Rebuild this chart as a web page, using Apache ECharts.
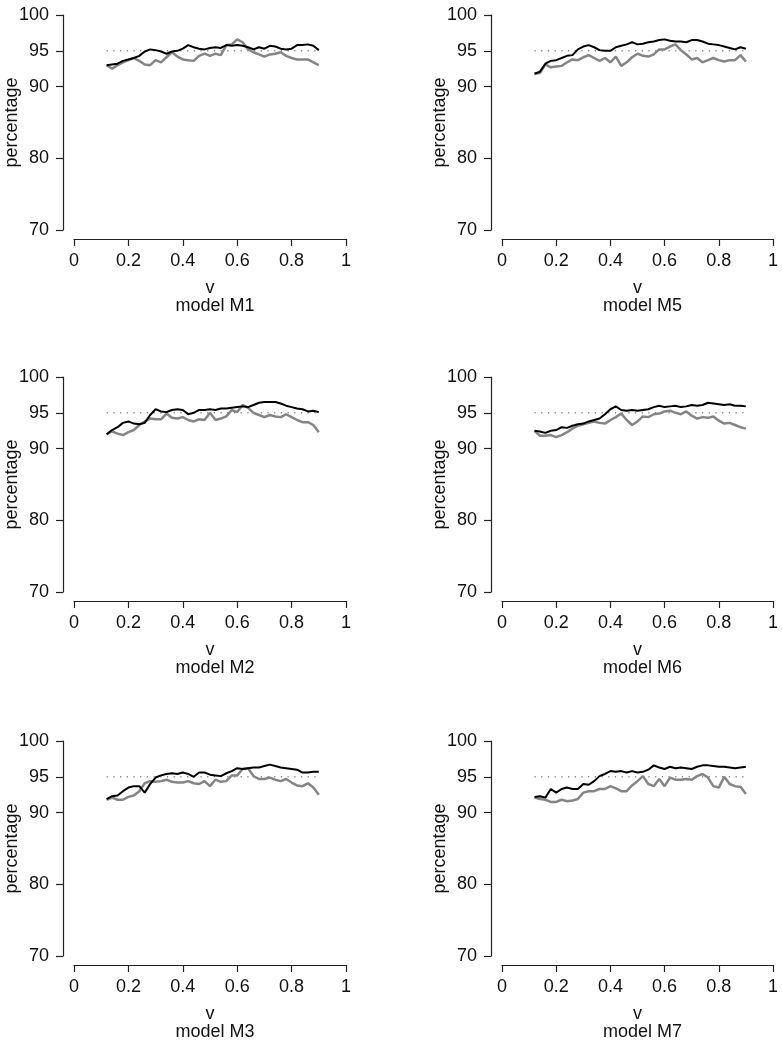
<!DOCTYPE html>
<html>
<head>
<meta charset="utf-8">
<script src="https://cdn.jsdelivr.net/npm/echarts@6/dist/echarts.min.js"></script>
<style>
html,body{margin:0;padding:0;background:#fff;}
#chart{width:782px;height:1050px;}
</style>
</head>
<body>
<div id="chart"></div>
<script>
const V = [0.12,0.14,0.16,0.18,0.20,0.22,0.24,0.26,0.28,0.30,0.32,0.34,0.36,0.38,0.40,0.42,0.44,0.46,0.48,0.50,
           0.52,0.54,0.56,0.58,0.60,0.62,0.64,0.66,0.68,0.70,0.72,0.74,0.76,0.78,0.80,0.82,0.84,0.86,0.88,0.90];
const X_TICKS = [0, 0.2, 0.4, 0.6, 0.8, 1];
const Y_TICKS = [70, 80, 90, 95, 100];
const NOMINAL = 95;
const NOMINAL_RANGE = [0.12, 0.90];

const m1Black = [93.0,93.1,93.2,93.6,93.8,94.0,94.3,94.9,95.2,95.1,94.9,94.6,94.9,95.0,95.3,95.8,95.5,95.3,95.2,95.4,
                 95.5,95.4,95.8,95.7,95.8,95.7,95.5,95.2,95.5,95.3,95.7,95.6,95.3,95.2,95.3,95.8,95.8,95.9,95.7,95.1];
const m1Grey  = [93.0,92.5,93.0,93.4,93.7,94.0,93.6,93.1,93.0,93.7,93.4,94.1,94.8,94.2,93.8,93.7,93.6,94.3,94.6,94.3,
                 94.6,94.4,95.8,95.9,96.6,96.2,95.2,94.8,94.5,94.2,94.5,94.6,94.8,94.3,94.0,93.8,93.8,93.8,93.4,93.0];
const m5Black = [91.8,92.1,93.2,93.6,93.7,94.0,94.3,94.4,95.2,95.6,95.8,95.5,95.1,95.0,95.0,95.5,95.7,95.9,96.2,95.9,
                 96.0,96.2,96.3,96.5,96.6,96.4,96.3,96.3,96.2,96.5,96.5,96.3,96.0,95.9,95.8,95.6,95.4,95.2,95.5,95.3];
const m5Grey  = [91.8,91.9,93.1,92.7,92.8,92.9,93.4,93.8,93.7,94.1,94.4,94.0,93.6,94.0,93.4,94.2,92.9,93.4,94.1,94.6,
                 94.3,94.2,94.5,95.2,95.2,95.6,95.9,95.1,94.5,93.8,94.0,93.4,93.7,94.0,93.7,93.5,93.7,93.7,94.4,93.5];
const m2Black = [92.0,92.6,93.0,93.6,93.8,93.5,93.4,93.6,94.7,95.5,95.2,95.1,95.4,95.5,95.4,94.8,95.0,95.4,95.4,95.5,
                 95.4,95.6,95.6,95.7,95.8,95.9,95.8,96.1,96.4,96.5,96.5,96.5,96.3,96.0,95.8,95.6,95.5,95.2,95.3,95.1];
const m2Grey  = [92.0,92.4,92.1,91.9,92.3,92.6,93.3,93.8,94.2,94.1,94.1,94.9,94.3,94.2,94.4,94.0,93.8,94.1,94.0,95.0,
                 94.0,94.2,94.5,95.4,95.1,96.1,95.7,95.0,94.7,94.4,94.7,94.5,94.4,94.8,94.4,94.0,93.7,93.7,93.3,92.3];
const m6Black = [92.5,92.4,92.2,92.5,92.6,93.0,92.9,93.2,93.4,93.5,93.8,94.0,94.2,94.8,95.5,95.9,95.4,95.3,95.4,95.3,
                 95.4,95.5,95.8,96.0,95.8,95.9,96.0,95.8,95.9,96.1,96.0,96.1,96.4,96.3,96.2,96.1,96.2,96.0,96.0,95.9];
const m6Grey  = [92.5,91.8,91.8,91.9,91.6,91.9,92.3,92.8,93.2,93.4,93.6,93.8,93.6,93.5,94.0,94.4,94.9,94.0,93.3,93.8,
                 94.5,94.4,94.8,94.9,95.2,95.3,95.0,94.8,95.2,94.6,94.2,94.4,94.3,94.5,93.9,93.5,93.6,93.3,93.0,92.8];
const m3Black = [91.9,92.3,92.4,93.0,93.5,93.7,93.7,92.8,94.0,94.9,95.2,95.4,95.5,95.4,95.6,95.4,95.0,95.6,95.6,95.3,
                 95.2,95.1,95.5,95.8,96.2,96.1,96.2,96.3,96.3,96.5,96.7,96.5,96.3,96.2,96.1,96.0,95.6,95.6,95.7,95.7];
const m3Grey  = [91.8,92.1,91.8,91.8,92.2,92.4,93.0,94.1,94.4,94.3,94.4,94.6,94.3,94.2,94.2,94.4,94.1,94.0,94.4,93.7,
                 94.6,94.3,94.4,95.2,95.2,96.1,96.2,95.1,94.7,94.7,94.9,94.6,94.4,94.7,94.2,93.8,93.7,94.1,93.5,92.5];
const m7Black = [92.2,92.3,92.1,93.3,92.8,93.3,93.5,93.3,93.3,94.0,93.9,94.4,95.1,95.4,95.8,95.7,95.8,95.6,95.8,95.6,
                 95.7,96.0,96.6,96.3,96.1,96.4,96.2,96.3,96.2,96.1,96.4,96.6,96.6,96.5,96.4,96.4,96.3,96.2,96.3,96.4];
const m7Grey  = [92.1,91.9,91.8,91.5,91.5,91.8,91.6,91.7,91.9,92.8,93.0,93.0,93.3,93.3,93.7,93.4,93.0,93.0,93.8,94.4,
                 95.1,94.0,93.7,94.7,93.7,94.9,94.6,94.6,94.7,94.6,95.1,95.4,94.9,93.7,93.5,95.0,94.0,93.7,93.6,92.6];

const PANELS = [
  {title:'model M1', black:m1Black, grey:m1Grey, col:0, row:0},
  {title:'model M5', black:m5Black, grey:m5Grey, col:1, row:0},
  {title:'model M2', black:m2Black, grey:m2Grey, col:0, row:1},
  {title:'model M6', black:m6Black, grey:m6Grey, col:1, row:1},
  {title:'model M3', black:m3Black, grey:m3Grey, col:0, row:2},
  {title:'model M7', black:m7Black, grey:m7Grey, col:1, row:2}
];

const FONT = 'Liberation Sans, Arial, Helvetica, sans-serif';
const FS = 18;
const colLeft = [74, 502];
const colWidth = [272, 271];
const rowTop = [15, 377, 741];
const plotH = 215;

const grid = [], xAxis = [], yAxis = [], series = [], title = [];
PANELS.forEach((p, i) => {
  const left = colLeft[p.col], top = rowTop[p.row];
  grid.push({left: left, top: top, width: colWidth[p.col], height: plotH, containLabel: false, outerBoundsMode: 'none'});
  xAxis.push({
    type: 'value', gridIndex: i, min: 0, max: 1, interval: 0.2, offset: 9, position: 'bottom',
    axisLine: {show: true, onZero: false, lineStyle: {color: '#222', width: 1.2}},
    axisTick: {show: true, length: 7, inside: false, lineStyle: {color: '#222', width: 1.2}, customValues: X_TICKS},
    axisLabel: {color: '#111', fontSize: FS, fontFamily: FONT, margin: 13, customValues: X_TICKS},
    splitLine: {show: false},
    name: 'v', nameLocation: 'middle', nameGap: 40, nameMoveOverlap: false,
    nameTextStyle: {color: '#111', fontSize: FS, fontFamily: FONT}
  });
  yAxis.push({
    type: 'value', gridIndex: i, min: 70, max: 100, interval: 5, offset: 11, position: 'left',
    axisLine: {show: true, onZero: false, lineStyle: {color: '#222', width: 1.2}},
    axisTick: {show: true, length: 7, lineStyle: {color: '#222', width: 1.2}, customValues: Y_TICKS},
    axisLabel: {color: '#111', fontSize: FS, fontFamily: FONT, margin: 14, customValues: Y_TICKS},
    splitLine: {show: false},
    name: 'percentage', nameLocation: 'middle', nameGap: 42, nameRotate: 90, nameMoveOverlap: false,
    nameTextStyle: {color: '#111', fontSize: FS, fontFamily: FONT}
  });
  title.push({
    text: p.title, left: left + colWidth[p.col] / 2, top: top + plotH + 62, textAlign: 'center',
    textStyle: {color: '#111', fontSize: FS, fontWeight: 'normal', fontFamily: FONT}
  });
  series.push({
    type: 'line', xAxisIndex: i, yAxisIndex: i, showSymbol: false, silent: true,
    data: [[NOMINAL_RANGE[0], NOMINAL], [NOMINAL_RANGE[1], NOMINAL]],
    lineStyle: {color: '#444', width: 1, type: [1.2, 5.5]}
  });
  series.push({
    type: 'line', xAxisIndex: i, yAxisIndex: i, showSymbol: false, silent: true,
    data: V.map((v, k) => [v, p.grey[k]]),
    lineStyle: {color: '#858585', width: 2.5}
  });
  series.push({
    type: 'line', xAxisIndex: i, yAxisIndex: i, showSymbol: false, silent: true,
    data: V.map((v, k) => [v, p.black[k]]),
    lineStyle: {color: '#000', width: 2}
  });
});

const chart = echarts.init(document.getElementById('chart'), null, {renderer: 'canvas'});
chart.setOption({
  animation: false,
  backgroundColor: '#fff',
  title: title, grid: grid, xAxis: xAxis, yAxis: yAxis, series: series
});
</script>
</body>
</html>
